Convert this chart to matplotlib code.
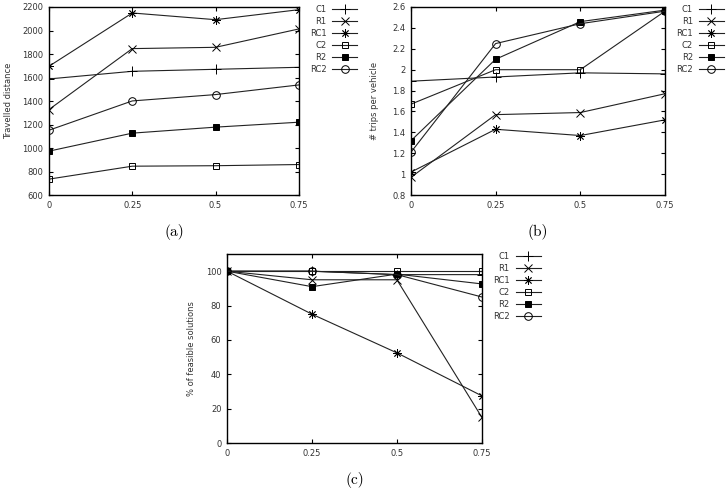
import matplotlib
matplotlib.use("Agg")
import matplotlib.pyplot as plt
from matplotlib.ticker import FormatStrFormatter

# x axis: fraction values
x = [0, 0.25, 0.5, 0.75]
series = ['C1', 'R1', 'RC1', 'C2', 'R2', 'RC2']

# (a) travelled distance
dist_C1 = [1588, 1653, 1670, 1687]
dist_R1 = [1328, 1846, 1857, 2013]
dist_RC1 = [1696, 2149, 2092, 2177]
dist_C2 = [736, 846, 850, 860]
dist_R2 = [974, 1127, 1178, 1220]
dist_RC2 = [1152, 1401, 1455, 1537]

# (b) trips per vehicle
trips_C1 = [1.89, 1.93, 1.97, 1.96]
trips_R1 = [0.97, 1.57, 1.59, 1.77]
trips_RC1 = [1.02, 1.43, 1.37, 1.52]
trips_C2 = [1.67, 2.0, 2.0, 2.56]
trips_R2 = [1.32, 2.10, 2.46, 2.57]
trips_RC2 = [1.21, 2.25, 2.44, 2.56]

# (c) % of feasible solutions
feas_C1 = [100, 100, 98, 98]
feas_R1 = [100, 95, 95, 15]
feas_RC1 = [100, 75, 52.5, 27.5]
feas_C2 = [100, 100, 100, 100]
feas_R2 = [100, 91, 98.3, 92.6]
feas_RC2 = [100, 100, 98, 85]

styles = {
    'C1': dict(marker='+', mfc='black', ms=7, mew=0.7),
    'R1': dict(marker='x', mfc='black', ms=5.5, mew=0.7),
    'RC1': dict(marker=(8, 2, 0), mfc='black', ms=6, mew=0.6),
    'C2': dict(marker='s', mfc='none', ms=5, mew=0.7),
    'R2': dict(marker='s', mfc='black', ms=5, mew=0.7),
    'RC2': dict(marker='o', mfc='none', ms=5.5, mew=0.7),
}


def draw_panel(ax, data, ylim, yticks, ylabel, lab_x, fmt=None):
    for name, vals in zip(series, data):
        ax.plot(x, vals, color='#222222', lw=0.8, mec='black',
                label=name, **styles[name])
    ax.set_xlim(0, 0.75)
    ax.set_ylim(*ylim)
    ax.set_xticks(x)
    ax.set_xticklabels(['0', '0.25', '0.5', '0.75'])
    ax.set_yticks(yticks)
    if fmt:
        ax.yaxis.set_major_formatter(FormatStrFormatter(fmt))
    ax.tick_params(direction='in', length=3, width=0.8, labelsize=6,
                   top=True, right=True, pad=4, colors='black',
                   labelcolor='#333333')
    for s in ax.spines.values():
        s.set_linewidth(1.0)
    ax.set_ylabel(ylabel, fontsize=6, color='#333333')
    ax.yaxis.set_label_coords(lab_x, 0.5)
    leg = ax.legend(loc='upper left', bbox_to_anchor=(1.044, 1.01),
                    frameon=False, markerfirst=False, fontsize=6,
                    handlelength=3.0, handletextpad=0.7, labelspacing=0.35,
                    borderaxespad=0, borderpad=0)
    for t in leg.get_texts():
        t.set_color('#333333')


fig = plt.figure(figsize=(7.26, 4.99), dpi=100)

ax1 = fig.add_axes([0.0675, 0.609, 0.344, 0.377])
draw_panel(ax1, [dist_C1, dist_R1, dist_RC1, dist_C2, dist_R2, dist_RC2],
           (600, 2200), range(600, 2201, 200), 'Travelled distance', -0.145)

ax2 = fig.add_axes([0.566, 0.609, 0.350, 0.377])
draw_panel(ax2, [trips_C1, trips_R1, trips_RC1, trips_C2, trips_R2, trips_RC2],
           (0.8, 2.6), [0.8, 1.0, 1.2, 1.4, 1.6, 1.8, 2.0, 2.2, 2.4, 2.6],
           '# trips per vehicle', -0.125, fmt='%g')

ax3 = fig.add_axes([0.3127, 0.112, 0.351, 0.379])
draw_panel(ax3, [feas_C1, feas_R1, feas_RC1, feas_C2, feas_R2, feas_RC2],
           (0, 110), range(0, 101, 20), '% of feasible solutions', -0.12)

for ax, lab, yy in [(ax1, '(a)', 0.535), (ax2, '(b)', 0.535), (ax3, '(c)', 0.038)]:
    pos = ax.get_position()
    fig.text((pos.x0 + pos.x1) / 2, yy, lab, ha='center', va='center',
             fontsize=11, family=['cmr10', 'DejaVu Serif'])

fig.savefig('out.png', dpi=100)
